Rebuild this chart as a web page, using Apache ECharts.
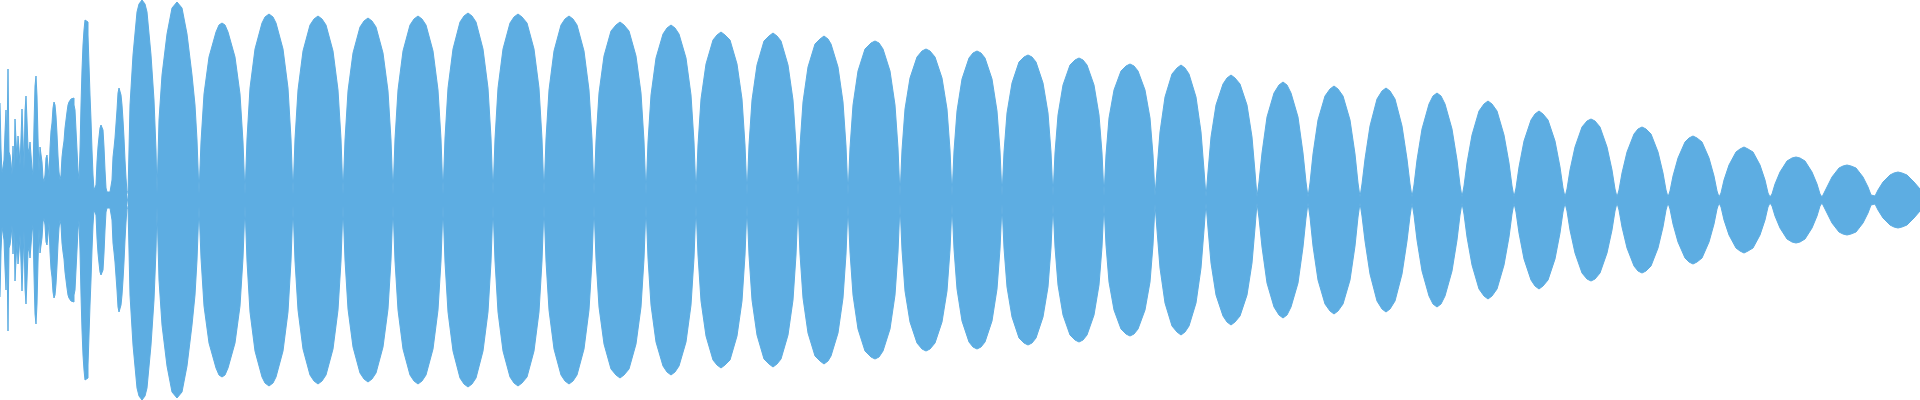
<!DOCTYPE html>
<html>
<head>
<meta charset="utf-8">
<script src="https://cdn.jsdelivr.net/npm/echarts@6/dist/echarts.min.js"></script>
<style>
html,body{margin:0;padding:0;background:#fff;}
#chart{width:1920px;height:400px;}
</style>
</head>
<body>
<div id="chart"></div>
<script>
// Waveform peak amplitude per time bin (0..1920), full scale = 200
// Onset (bins 0..127), one value per bin
const onsetAmp = [
  97,51,27,33,40,68,90,57,131,48,
  45,37,25,54,30,81,81,40,64,52,
  34,62,91,62,30,89,104,80,52,47,
  58,58,32,25,75,114,124,104,62,28,
  53,55,38,22,18,25,42,45,35,22,
  52,69,77,92,98,95,84,66,44,28,
  20,25,43,52,59,72,80,88,95,98,
  100,101,102,102,95,90,70,50,30,20,
  50,95,130,155,170,180,181,178,165,135,
  105,80,50,25,10,8,15,38,53,63,
  72,75,76,70,53,30,12,8,7,8,
  8,9,20,43,52,62,76,90,107,112,
  112,105,95,80,62,40,22,8
];
// Beating lobes after the onset: [bin, amplitude]
const lobePoints = [
  [128,6],[130,95],[133,145],[137,188],[139,196],[142,200],[145,196],[147,188],[151,145],[154,100],[156,50],[157,6],
  [159,80],[162,125],[167,166],[172,192],[177,198],[182,192],[187,166],[192,125],[195,95],[197,60],[199,6],
  [201,58],[204,106],[209,143],[216,168],[219,175],[222,177],[225,175],[228,168],[235,143],[240,106],[243,58],[245,5],
  [247,61],[250,112],[255,151],[262,177],[265,183],[269,186],[273,183],[276,177],[283,151],[288,112],[291,61],[293,5],
  [295,61],[298,110],[303,149],[310,175],[314,181],[318,184],[322,181],[326,175],[333,149],[338,110],[341,61],[343,5],
  [345,60],[348,109],[353,147],[360,173],[364,179],[368,182],[372,179],[376,173],[383,147],[388,109],[391,60],[393,5],
  [395,61],[398,110],[403,149],[410,175],[414,181],[418,184],[422,181],[426,175],[433,149],[438,110],[441,61],[443,5],
  [445,62],[448,112],[453,151],[460,178],[464,184],[468,187],[472,184],[476,178],[483,151],[488,112],[491,62],[493,5],
  [495,61],[498,112],[503,151],[510,177],[514,183],[518,186],[522,183],[527,177],[534,151],[539,112],[542,61],[544,5],
  [546,61],[549,110],[554,149],[561,175],[565,181],[569,184],[573,181],[577,175],[584,149],[589,110],[592,61],[594,5],
  [596,59],[599,107],[604,144],[611,169],[616,175],[620,178],[624,175],[629,169],[636,144],[641,107],[644,59],[646,5],
  [648,58],[651,105],[656,142],[663,166],[667,172],[671,175],[675,172],[679,166],[686,142],[691,105],[694,58],[696,5],
  [698,55],[701,101],[706,136],[713,160],[717,165],[721,168],[725,165],[730,160],[737,136],[742,101],[745,55],[747,5],
  [749,55],[752,100],[757,135],[764,159],[769,164],[773,167],[777,164],[781,159],[788,135],[793,100],[796,55],[798,5],
  [800,54],[803,98],[808,133],[815,156],[820,161],[824,164],[828,161],[831,156],[838,133],[843,98],[846,54],[848,5],
  [850,52],[853,95],[858,129],[865,151],[871,157],[875,159],[879,157],[883,151],[890,129],[895,95],[898,52],[900,4],
  [902,50],[905,91],[910,122],[917,143],[922,149],[926,151],[930,149],[935,143],[942,122],[947,91],[950,50],[952,4],
  [954,49],[957,89],[962,121],[969,142],[973,147],[977,149],[981,147],[985,142],[992,121],[997,89],[1000,49],[1002,4],
  [1004,48],[1007,87],[1012,117],[1019,138],[1024,143],[1028,145],[1032,143],[1036,138],[1043,117],[1048,87],[1051,48],[1053,4],
  [1055,47],[1058,85],[1063,115],[1070,135],[1075,140],[1079,142],[1083,140],[1087,135],[1094,115],[1099,85],[1102,47],[1104,4],
  [1106,45],[1109,82],[1114,110],[1121,129],[1126,134],[1130,136],[1134,134],[1138,129],[1145,110],[1150,82],[1153,45],[1155,4],
  [1157,30],[1160,68],[1165,103],[1172,126],[1177,132],[1181,135],[1185,132],[1189,126],[1196,103],[1201,68],[1204,30],[1206,3],
  [1208,28],[1211,63],[1216,95],[1223,116],[1227,122],[1231,125],[1235,122],[1240,116],[1247,95],[1252,63],[1255,28],[1257,3],
  [1259,18],[1262,47],[1267,83],[1274,107],[1279,115],[1283,118],[1287,115],[1291,107],[1298,83],[1303,47],[1306,18],[1308,3],
  [1310,17],[1313,46],[1318,80],[1325,104],[1330,111],[1334,114],[1338,111],[1343,104],[1350,80],[1355,46],[1358,17],[1360,3],
  [1362,16],[1365,41],[1370,74],[1377,101],[1382,109],[1386,112],[1390,109],[1395,101],[1402,74],[1407,41],[1410,16],[1412,3],
  [1414,15],[1417,40],[1422,71],[1429,96],[1433,104],[1437,107],[1441,104],[1445,96],[1452,71],[1457,40],[1460,15],[1462,3],
  [1464,14],[1467,37],[1472,65],[1479,89],[1484,96],[1488,99],[1492,96],[1497,89],[1504,65],[1509,37],[1512,14],[1514,3],
  [1516,12],[1519,33],[1524,59],[1531,80],[1535,86],[1539,89],[1543,86],[1548,80],[1555,59],[1560,33],[1563,12],[1565,3],
  [1567,11],[1570,30],[1575,53],[1582,73],[1587,79],[1591,81],[1595,79],[1600,73],[1607,53],[1612,30],[1615,11],[1617,3],
  [1619,10],[1622,27],[1627,48],[1634,66],[1638,71],[1642,73],[1646,71],[1651,66],[1658,48],[1663,27],[1666,10],[1668,3],
  [1670,9],[1673,24],[1678,42],[1685,58],[1689,62],[1693,64],[1697,62],[1702,58],[1709,42],[1714,24],[1717,9],[1719,3],
  [1721,7],[1724,20],[1729,35],[1736,48],[1740,51],[1744,53],[1748,51],[1753,48],[1760,35],[1765,20],[1768,7],[1770,3],
  [1772,6],[1775,16],[1780,28],[1787,39],[1792,42],[1796,43],[1800,42],[1805,39],[1812,28],[1817,16],[1820,6],[1822,3],
  [1824,5],[1827,13],[1832,23],[1839,32],[1843,34],[1847,35],[1851,34],[1856,32],[1863,23],[1868,13],[1871,5],[1873,3],
  [1875,4],[1878,10],[1883,18],[1890,25],[1894,27],[1898,28],[1902,27],[1907,25],[1914,18],[1920,11]
];
const waveColor = '#5DADE2';

const onsetUpper = onsetAmp.map((v, i) => [i, v]).concat([[onsetAmp.length, onsetAmp[onsetAmp.length - 1]]]);
const onsetLower = onsetUpper.map(p => [p[0], -p[1]]);
const lobeUpper = lobePoints.map(p => [p[0], p[1]]);
const lobeLower = lobePoints.map(p => [p[0], -p[1]]);

function areaSeries(data, step) {
  return {
    type: 'line',
    data: data,
    step: step || false,
    symbol: 'none',
    silent: true,
    lineStyle: { width: 1, color: waveColor },
    areaStyle: { color: waveColor, opacity: 1, origin: 0 },
    itemStyle: { color: waveColor }
  };
}

const chart = echarts.init(document.getElementById('chart'), null, { renderer: 'canvas' });
chart.setOption({
  animation: false,
  backgroundColor: '#ffffff',
  grid: { left: 0, right: 0, top: 0, bottom: 0 },
  xAxis: { type: 'value', min: 0, max: 1920, show: false },
  yAxis: { type: 'value', min: -200, max: 200, show: false },
  series: [
    areaSeries(onsetUpper, 'end'),
    areaSeries(onsetLower, 'end'),
    areaSeries(lobeUpper),
    areaSeries(lobeLower)
  ]
});
</script>
</body>
</html>
